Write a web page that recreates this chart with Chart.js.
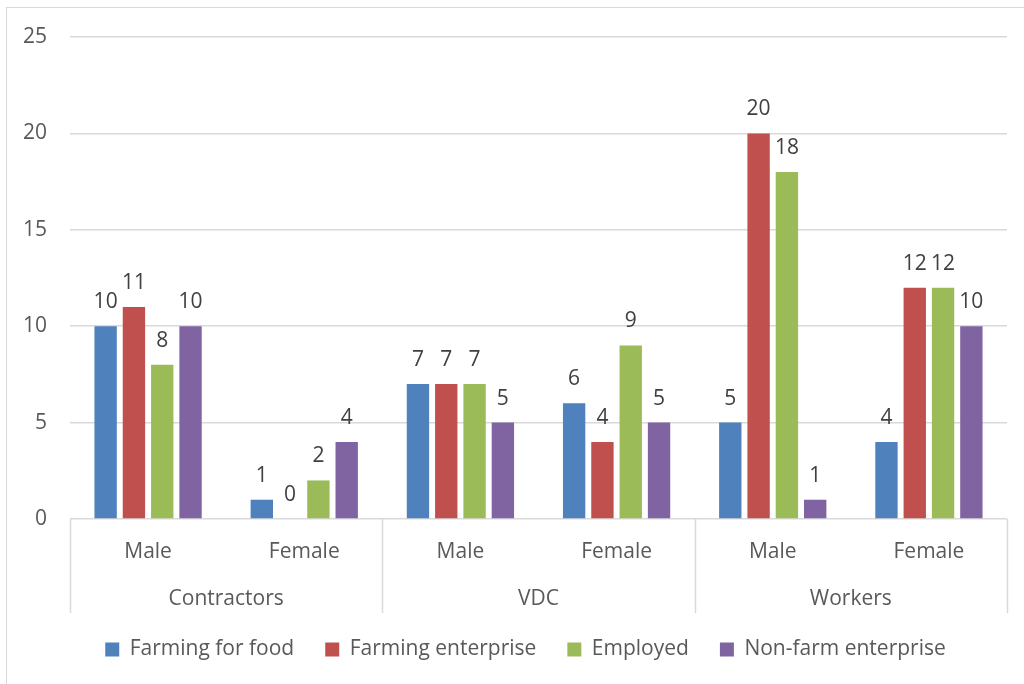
<!DOCTYPE html>
<html>
<head>
<meta charset="utf-8">
<script src="https://cdn.jsdelivr.net/npm/chart.js@4.4.1/dist/chart.umd.min.js"></script>
<style>
  html, body { margin: 0; padding: 0; background: #fff; }
  #wrap { position: relative; width: 1024px; height: 684px; overflow: hidden; }
  #frame {
    position: absolute; left: 6px; top: 7px; width: 1100px; height: 800px;
    border-top: 1px solid #d9d9d9; border-left: 1px solid #d9d9d9;
  }
  canvas { position: absolute; left: 0; top: 0; }
</style>
</head>
<body>
<div id="wrap">
  <div id="frame"></div>
  <canvas id="chart" width="1024" height="684"></canvas>
</div>
<script>
// Sub-categories (bottom row) and their groups (second row)
const subLabels = ['Male', 'Female', 'Male', 'Female', 'Male', 'Female'];
const groups = ['Contractors', 'VDC', 'Workers'];

const seriesNames = ['Farming for food', 'Farming enterprise', 'Employed', 'Non-farm enterprise'];
const farmingFood = [10, 1, 7, 6, 5, 4];
const farmingEnterprise = [11, 0, 7, 4, 20, 12];
const employed = [8, 2, 7, 9, 18, 12];
const nonFarm = [10, 4, 5, 5, 1, 10];

const yTicks = [0, 5, 10, 15, 20, 25];

const colors = ['#4f81bd', '#c0504d', '#9bbb59', '#8064a2'];
const FONT = "'Open Sans', sans-serif";
const gridGray = '#d9d9d9';

// value labels above each bar
const valueLabels = {
  id: 'valueLabels',
  afterDatasetsDraw(chart) {
    const c = chart.ctx;
    c.save();
    c.font = '21px ' + FONT;
    c.fillStyle = '#404040';
    c.textAlign = 'center';
    c.textBaseline = 'alphabetic';
    chart.data.datasets.forEach((ds, i) => {
      chart.getDatasetMeta(i).data.forEach((bar, j) => {
        c.fillText(String(ds.data[j]), bar.x, bar.y - 18);
      });
    });
    c.restore();
  }
};

// vertical separators of the two-level category axis
const groupLines = {
  id: 'groupLines',
  afterDraw(chart) {
    const x = chart.scales.x;
    const x2 = chart.scales.x2;
    const c = chart.ctx;
    const half = (x.getPixelForValue(1) - x.getPixelForValue(0)) / 2;
    c.save();
    c.strokeStyle = gridGray;
    c.lineWidth = 1.5;
    for (let i = 0; i <= subLabels.length; i += 2) {
      const px = Math.round(x.getPixelForValue(i) - half) + 0.5;
      c.beginPath();
      c.moveTo(px, chart.chartArea.bottom);
      c.lineTo(px, x2.bottom + 5);
      c.stroke();
    }
    c.restore();
  }
};

// legend sits a bit right of the full-width centre
const legendShift = {
  id: 'legendShift',
  afterLayout(chart) {
    chart.legend.left += 19;
    chart.legend.right += 19;
  }
};

new Chart(document.getElementById('chart'), {
  type: 'bar',
  data: {
    labels: subLabels,
    datasets: [farmingFood, farmingEnterprise, employed, nonFarm].map((d, i) => ({
      label: seriesNames[i],
      data: d,
      backgroundColor: colors[i],
      borderWidth: 0,
      categoryPercentage: 0.725,
      barPercentage: 0.79
    }))
  },
  options: {
    responsive: false,
    animation: false,
    layout: { padding: { left: 6, right: 17, top: 37, bottom: 14 } },
    scales: {
      y: {
        min: 0,
        max: 25,
        afterBuildTicks: s => { s.ticks = yTicks.map(v => ({ value: v })); },
        afterFit: s => { s.width = 64; },
        grid: { color: gridGray, lineWidth: 1.5, drawTicks: false },
        border: { display: false },
        ticks: { color: '#595959', font: { family: FONT, size: 21 }, padding: 23 }
      },
      x: {
        grid: { display: false, drawTicks: false },
        border: { display: false },
        ticks: { color: '#595959', font: { family: FONT, size: 21 }, padding: 20 },
        afterFit: s => { s.height = 44; }
      },
      x2: {
        type: 'category',
        labels: groups,
        position: 'bottom',
        offset: true,
        grid: { display: false, drawTicks: false },
        border: { display: false },
        ticks: { color: '#595959', font: { family: FONT, size: 21 }, padding: 23 },
        afterFit: s => { s.height = 45; }
      }
    },
    plugins: {
      legend: {
        position: 'bottom',
        labels: {
          boxWidth: 14,
          boxHeight: 14,
          padding: 31,
          color: '#595959',
          font: { family: FONT, size: 21 }
        }
      },
      tooltip: { enabled: false }
    }
  },
  plugins: [valueLabels, groupLines, legendShift]
});
</script>
</body>
</html>
